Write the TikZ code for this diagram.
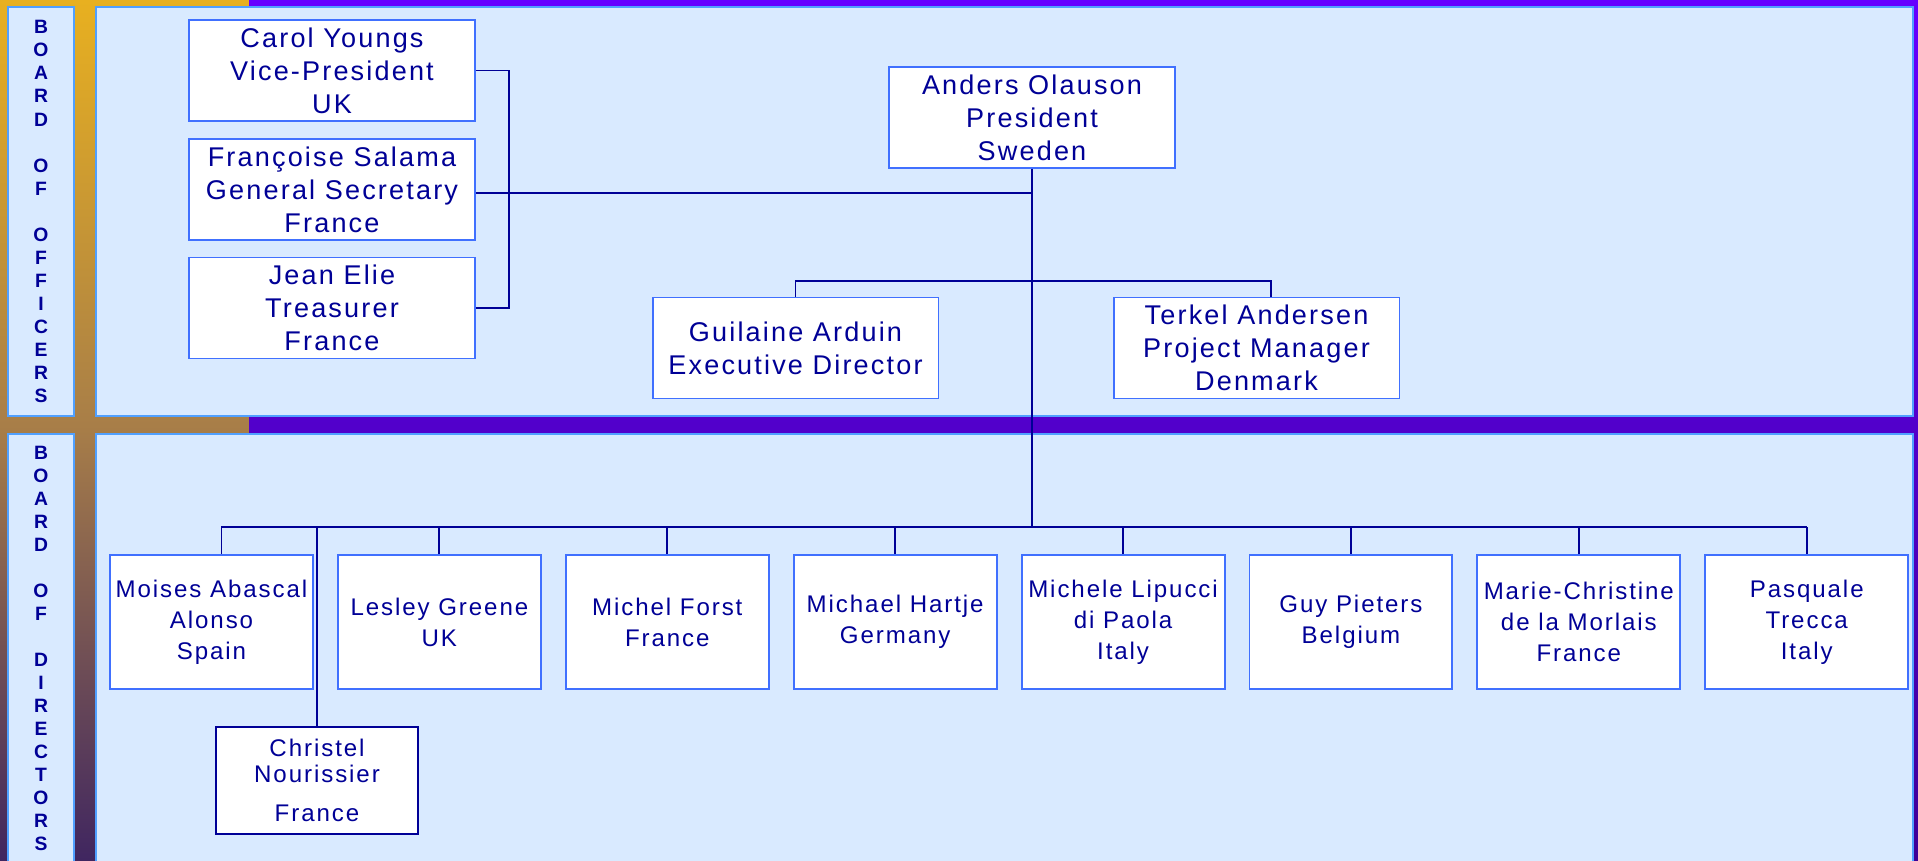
\documentclass[tikz,border=0pt]{standalone}
\usepackage{fontspec}
\newfontfamily\boxfont[LetterSpace=8]{Liberation Sans}
\newfontfamily\sidefont{Liberation Sans}
\usetikzlibrary{positioning}

\definecolor{navy}{RGB}{0,0,150}
\definecolor{boxblue}{RGB}{64,112,255}
\definecolor{panelblue}{RGB}{80,160,255}
\definecolor{panelfill}{RGB}{217,234,255}
\definecolor{gold}{RGB}{232,176,32}
\definecolor{rust}{RGB}{168,126,72}
\definecolor{dusk}{RGB}{64,38,96}
\definecolor{violettop}{RGB}{102,0,255}
\definecolor{violetbot}{RGB}{62,0,150}

\tikzset{
  person/.style={draw=boxblue, line width=1.1pt, fill=white, inner sep=0pt, align=center,
    text=navy, font=\boxfont\fontsize{15.4pt}{18.8pt}\selectfont,
    minimum width=5.72cm, minimum height=2.02cm},
  director/.style={person, minimum width=4.06cm, minimum height=2.68cm,
    font=\boxfont\fontsize{13.7pt}{17.6pt}\selectfont},
  panel/.style={draw=panelblue, line width=1.1pt, fill=panelfill},
  side/.style={text=navy, align=center, inner sep=0pt,
    font=\sidefont\bfseries\fontsize{11pt}{13.1pt}\selectfont},
  link/.style={draw=navy, line width=1.1pt}
}

\begin{document}
\begin{tikzpicture}[x=0.02cm,y=-0.02cm]
\useasboundingbox (0,0) rectangle (1918,860);
% background
\shade[top color=gold, bottom color=rust] (0,0) rectangle (249,425);
\shade[top color=rust, bottom color=dusk] (0,425) rectangle (249,860);
\shade[top color=violettop, bottom color=violetbot] (249,0) rectangle (1918,860);
\draw[panel] (8,7) rectangle (74,416);
\draw[panel] (96,7) rectangle (1913,416);
\draw[panel] (8,434) rectangle (74,866);
\draw[panel] (96,434) rectangle (1913,866);

\node[side] (offlab) at (41,211.5) {B\\O\\A\\R\\D\\[13.1pt]O\\F\\[13.1pt]O\\F\\F\\I\\C\\E\\R\\S};
\node[side] (dirlab) at (41,648.5) {B\\O\\A\\R\\D\\[13.1pt]O\\F\\[13.1pt]D\\I\\R\\E\\C\\T\\O\\R\\S};

% board of officers
\node[person] (carol) at (332,70.5) {Carol Youngs\\Vice-President\\UK};
\node[person] (francoise) at (332,189.5) {Françoise Salama\\General Secretary\\France};
\node[person] (jean) at (332,308) {Jean Elie\\Treasurer\\France};
\node[person] (anders) at (1032,117.5) {Anders Olauson\\President\\Sweden};
\node[person] (guilaine) at (795.5,348) {Guilaine Arduin\\Executive Director};
\node[person] (terkel) at (1256.5,348) {Terkel Andersen\\Project Manager\\Denmark};

% board of directors
\node[director] (moises) at (211.5,622) {Moises Abascal\\Alonso\\Spain};
\node[director, right=0.46cm of moises] (lesley) {Lesley Greene\\UK};
\node[director, right=0.46cm of lesley] (forst) {Michel Forst\\France};
\node[director, right=0.46cm of forst] (hartje) {Michael Hartje\\Germany};
\node[director, right=0.46cm of hartje] (lipucci) {Michele Lipucci\\di Paola\\Italy};
\node[director, right=0.46cm of lipucci] (pieters) {Guy Pieters\\Belgium};
\node[director, right=0.46cm of pieters] (morlais) {Marie-Christine\\de la Morlais\\France};
\node[director, right=0.46cm of morlais] (trecca) {Pasquale\\Trecca\\Italy};
\node[director, draw=navy, minimum width=4.04cm, minimum height=2.14cm,
  font=\boxfont\fontsize{13.7pt}{14.8pt}\selectfont] (christel) at (317,780.5)
  {Christel\\Nourissier\\[7.4pt]France};

% connectors
\coordinate (brk) at (509,193);
\coordinate (staffbar) at (1032,281);
\coordinate (dirbar) at (1032,527);
\draw[link] (carol.east) -| (brk) |- (jean.east);
\draw[link] (francoise.east |- brk) -- (brk -| anders.south);
\draw[link] (anders.south) -- (dirbar);
\draw[link] (guilaine.north) |- (staffbar) -| ([xshift=0.29cm]terkel.north);
\draw[link] ([xshift=0.2cm]moises.north |- dirbar) -- (trecca.north |- dirbar);
\draw[link] ([xshift=0.2cm]moises.north |- dirbar) -- ([xshift=0.2cm]moises.north);
\foreach \n in {lesley,forst,hartje,lipucci,pieters,morlais,trecca}
  \draw[link] (\n.north |- dirbar) -- (\n.north);
\draw[link] (christel.north |- dirbar) -- (christel.north);
\end{tikzpicture}
\end{document}
